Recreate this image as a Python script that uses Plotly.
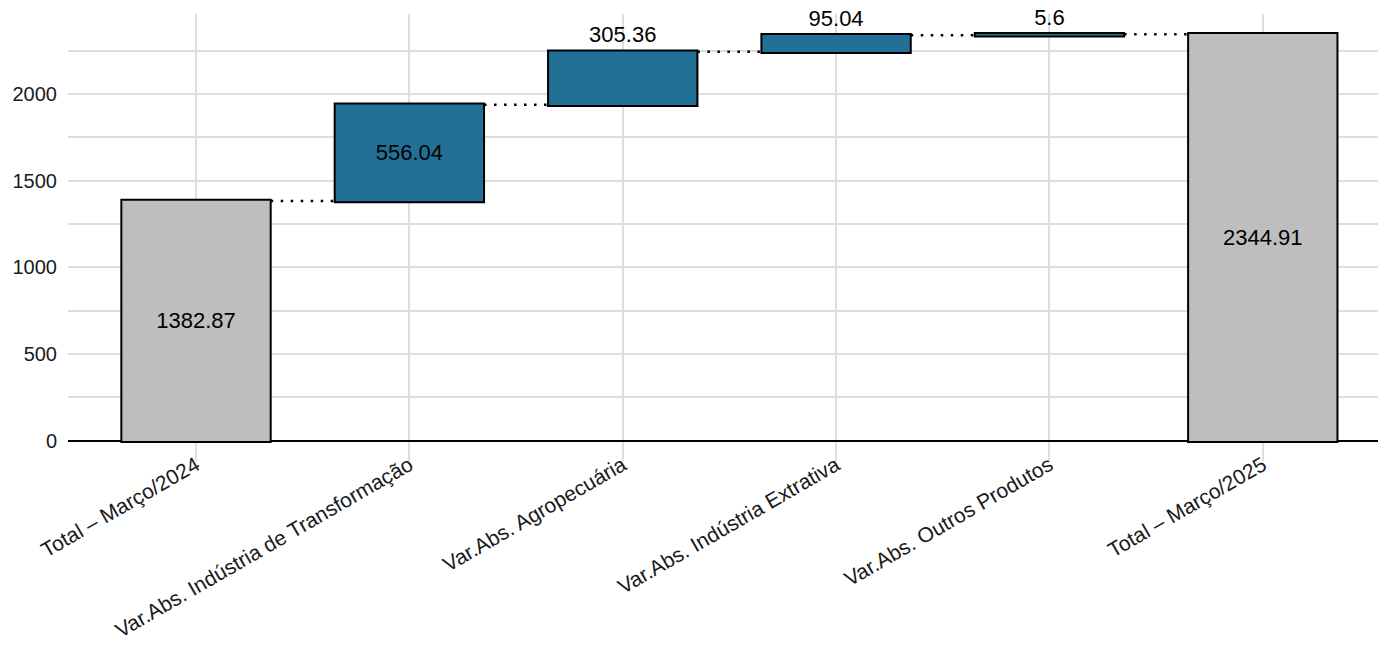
import plotly.graph_objects as go

categories = [
    "Total – Março/2024",
    "Var.Abs. Indústria de Transformação",
    "Var.Abs. Agropecuária",
    "Var.Abs. Indústria Extrativa",
    "Var.Abs. Outros Produtos",
    "Total – Março/2025",
]
values = [1382.87, 556.04, 305.36, 95.04, 5.6, 2344.91]
measures = ["absolute", "relative", "relative", "relative", "relative", "total"]
labels = ["1382.87", "556.04", "305.36", "95.04", "5.6", "2344.91"]
text_positions = ["inside", "inside", "outside", "outside", "outside", "inside"]

BLUE = "#237096"
GREY = "#BEBEBE"
FONT = "Liberation Sans, Arial, sans-serif"

fig = go.Figure()
fig.add_trace(go.Waterfall(
    x=list(range(len(categories))),
    y=values,
    measure=measures,
    text=labels,
    textposition=text_positions,
    insidetextanchor="middle",
    textfont=dict(family=FONT, size=22, color="black"),
    insidetextfont=dict(family=FONT, size=22, color="black"),
    outsidetextfont=dict(family=FONT, size=22, color="black"),
    constraintext="none",
    cliponaxis=False,
    width=0.7,
    increasing=dict(marker=dict(color=BLUE, line=dict(color="black", width=2))),
    decreasing=dict(marker=dict(color=BLUE, line=dict(color="black", width=2))),
    totals=dict(marker=dict(color=GREY, line=dict(color="black", width=2))),
    connector=dict(mode="between", line=dict(color="black", width=2.5, dash="2.5px,7.5px")),
    hoverinfo="skip",
))

fig.update_layout(
    width=1378,
    height=648,
    margin=dict(l=68, r=0, t=14, b=187),
    paper_bgcolor="white",
    plot_bgcolor="white",
    showlegend=False,
    font=dict(family=FONT, size=20, color="black"),
    xaxis=dict(
        tickmode="array",
        tickvals=list(range(len(categories))),
        ticktext=categories,
        range=[-0.6, 5.54],
        tickangle=-30,
        showgrid=True,
        gridcolor="#DEDEDE",
        gridwidth=1.5,
        showline=False,
        zeroline=False,
        ticks="",
        ticklabelstandoff=-13,
        tickfont=dict(family=FONT, size=21, color="#1a1a1a"),
    ),
    yaxis=dict(
        range=[-117, 2462],
        tickvals=[0, 500, 1000, 1500, 2000],
        showgrid=True,
        gridcolor="#DEDEDE",
        gridwidth=1.5,
        minor=dict(tickvals=[250, 750, 1250, 1750, 2250], showgrid=True,
                   gridcolor="#DEDEDE", gridwidth=1.5),
        zeroline=True,
        zerolinecolor="black",
        zerolinewidth=2,
        showline=False,
        ticks="",
        ticklabelstandoff=10,
        tickfont=dict(family=FONT, size=20, color="#1a1a1a"),
    ),
)

fig.write_html("out.html", config={"displayModeBar": False},
               post_script="document.body.style.margin='0';")
